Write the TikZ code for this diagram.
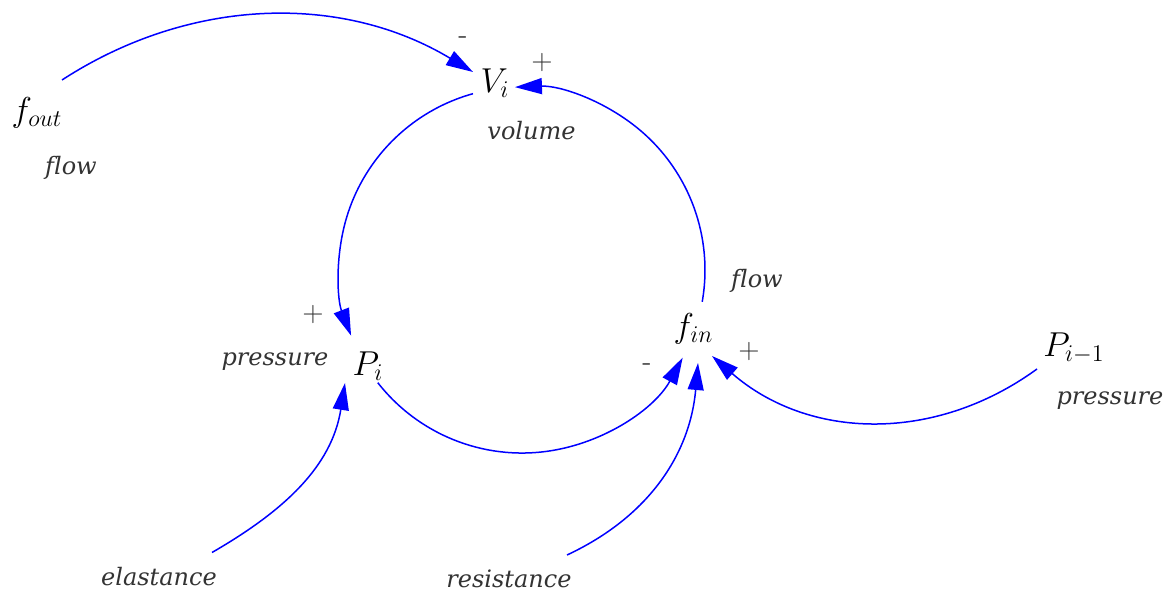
\documentclass[tikz,border=0pt]{standalone}
\usepackage{fontspec}
\newfontfamily\lblfont{DejaVu Serif}[Ligatures=NoCommon]
\usetikzlibrary{arrows.meta,calc}
\begin{document}
\begin{tikzpicture}[x=0.5pt,y=0.5pt,
  sym/.style={inner sep=0pt, font=\LARGE},
  lbl/.style={inner sep=0pt, text=black!80, font=\lblfont\itshape\fontsize{12}{14}\selectfont},
  sgn/.style={inner sep=0pt, text=black!80, font=\fontsize{14}{16}\selectfont},
  link/.style={draw=blue, line width=0.75pt, -{Triangle[length=13.5pt,width=8pt]}}
]
\path[use as bounding box, fill=white] (0,0) rectangle (1171,594);

% variables
\node[sym] (fout) at (37,481) {$f_{out}$};
\node[sym] (Vi)   at (495,511) {$V_i$};
\node[sym] (Pi)   at (368,228) {$P_i$};
\node[sym] (fin)  at (693.5,265) {$f_{in}$};
\node[sym] (Pim1) at (1074,245.5) {$P_{i-1}$};

% descriptions
\node[lbl] (flowL)  at (71,426.5) {flow};
\node[lbl] (volume) at (531.5,463.5) {volume};
\node[lbl] (presL)  at (275,232) {pressure};
\node[lbl] (flowR)  at (757,313) {flow};
\node[lbl] (presR)  at (1110,193) {pressure};
\node[lbl] (elast)  at (159,17) {elastance};
\node[lbl] (resist) at (509,15) {resistance};

% signs
\node[sgn] (m1) at (463,554) {-};
\node[sgn] (p1) at (542,531) {+};
\node[sgn] (p2) at (313,279) {+};
\node[sgn] (m2) at (647,227) {-};
\node[sgn] (p3) at (749,242) {+};

% connectors
\draw[link] ($(fout)+(25,33)$) to[out=33,in=149,looseness=0.95] ($(Vi)+(-22,11)$);
% loop on a common circle (centre 522,324; radius 183)
\draw[link] ($(Vi)+(-22,-10.7)$) arc[start angle=105.5, end angle=201, radius=183];
\draw[link] ($(Pi)+(9.8,-16.7)$) arc[start angle=218, end angle=331.4, radius=183];
\draw[link] ($(fin)+(8.7,27.2)$) arc[start angle=-10, end angle=92.2, radius=183];
% inputs
\draw[link] ($(elast)+(53,24.5)$) to[out=30,in=-99] ($(Pi)+(-23,-17)$);
\draw[link] ($(resist)+(58,24)$) to[out=25,in=-95] ($(fin)+(4.5,-34)$);
\draw[link] ($(Pim1)+(-37,-20.5)$) to[out=-144,in=-41] ($(fin)+(18.5,-27)$);
\end{tikzpicture}
\end{document}
